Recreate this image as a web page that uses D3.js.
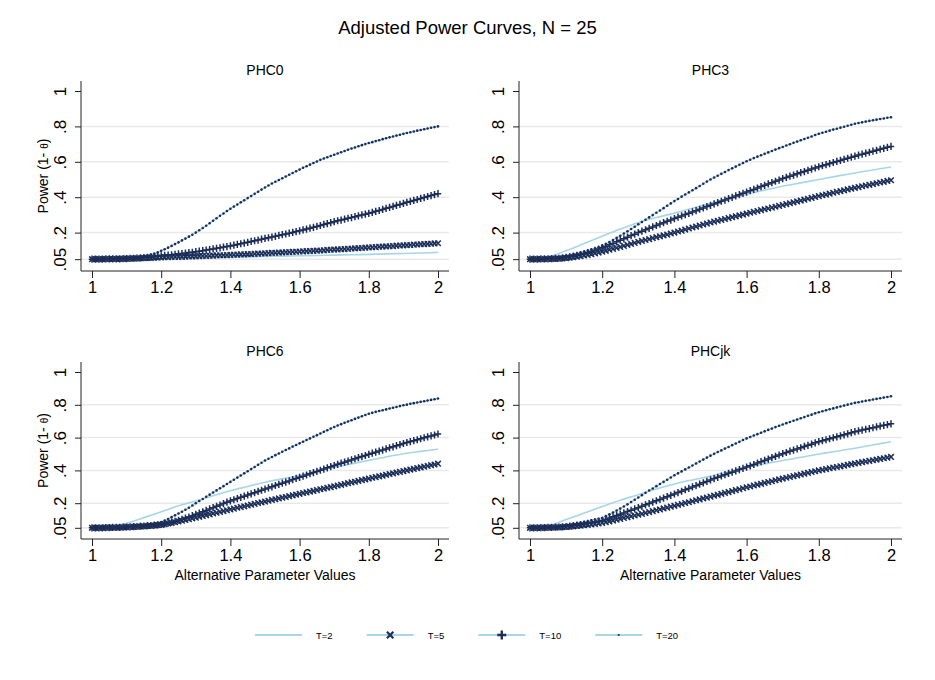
<!DOCTYPE html>
<html>
<head>
<meta charset="utf-8">
<script src="https://cdn.jsdelivr.net/npm/d3@7"></script>
<style>
  body { margin: 0; background: #fff; }
  svg { font-family: "Liberation Sans", Arial, Helvetica, sans-serif; }
</style>
</head>
<body>
<svg width="935" height="680"></svg>
<script>
// alternative parameter values (x) for the marker series
const altValues = [
  1.00, 1.01, 1.02, 1.03, 1.04, 1.05, 1.06, 1.07, 1.08, 1.09, 1.10,
  1.11, 1.12, 1.13, 1.14, 1.15, 1.16, 1.17, 1.18, 1.19, 1.20,
  1.21, 1.22, 1.23, 1.24, 1.25, 1.26, 1.27, 1.28, 1.29, 1.30,
  1.31, 1.32, 1.33, 1.34, 1.35, 1.36, 1.37, 1.38, 1.39, 1.40,
  1.41, 1.42, 1.43, 1.44, 1.45, 1.46, 1.47, 1.48, 1.49, 1.50,
  1.51, 1.52, 1.53, 1.54, 1.55, 1.56, 1.57, 1.58, 1.59, 1.60,
  1.61, 1.62, 1.63, 1.64, 1.65, 1.66, 1.67, 1.68, 1.69, 1.70,
  1.71, 1.72, 1.73, 1.74, 1.75, 1.76, 1.77, 1.78, 1.79, 1.80,
  1.81, 1.82, 1.83, 1.84, 1.85, 1.86, 1.87, 1.88, 1.89, 1.90,
  1.91, 1.92, 1.93, 1.94, 1.95, 1.96, 1.97, 1.98, 1.99, 2.00
];
// x values for the plain T=2 line
const altValuesT2 = [1.00, 1.05, 1.10, 1.15, 1.20, 1.25, 1.30, 1.35, 1.40, 1.45, 1.50,
  1.55, 1.60, 1.65, 1.70, 1.75, 1.80, 1.85, 1.90, 1.95, 2.00];

const panelNames = ["PHC0", "PHC3", "PHC6", "PHCjk"];
const seriesLabels = ["T=2", "T=5", "T=10", "T=20"];
const xTicks = [1, 1.2, 1.4, 1.6, 1.8, 2];
const xTickLabels = ["1", "1.2", "1.4", "1.6", "1.8", "2"];
const yTicks = [0.05, 0.2, 0.4, 0.6, 0.8, 1];
const yTickLabels = [".05", ".2", ".4", ".6", ".8", "1"];

// PHC0
const phc0T2 = [.050, .050, .051, .052, .053, .055, .057, .059, .061, .063, .065,
  .067, .069, .071, .073, .075, .077, .080, .082, .085, .088];
const phc0T5 = [
  .050, .050, .050, .050, .051, .051, .051, .052, .052, .052, .053,
  .053, .054, .054, .055, .056, .057, .057, .058, .059, .060,
  .061, .061, .062, .062, .063, .063, .064, .065, .065, .066,
  .067, .068, .068, .069, .070, .071, .072, .072, .073, .074,
  .075, .076, .077, .077, .078, .079, .080, .081, .082, .083,
  .084, .085, .086, .087, .088, .089, .090, .091, .092, .093,
  .094, .095, .096, .097, .098, .099, .100, .102, .103, .104,
  .105, .106, .107, .108, .110, .111, .112, .113, .115, .116,
  .117, .118, .120, .121, .122, .123, .124, .126, .127, .128,
  .129, .130, .132, .133, .134, .135, .136, .137, .139, .140
];
const phc0T10 = [
  .050, .050, .050, .050, .051, .051, .051, .052, .052, .053, .053,
  .054, .055, .056, .057, .059, .060, .062, .064, .066, .069,
  .071, .073, .075, .077, .080, .082, .084, .087, .089, .092,
  .095, .098, .101, .104, .108, .111, .114, .118, .121, .125,
  .129, .133, .137, .141, .145, .150, .154, .158, .163, .167,
  .171, .175, .179, .184, .188, .192, .197, .201, .206, .210,
  .215, .220, .225, .230, .235, .240, .246, .251, .256, .262,
  .267, .271, .276, .281, .285, .290, .295, .300, .304, .309,
  .314, .320, .325, .331, .337, .342, .348, .354, .359, .365,
  .371, .376, .382, .387, .393, .398, .404, .409, .415, .420
];
const phc0T20 = [
  .050, .050, .050, .051, .051, .051, .052, .052, .053, .054, .055,
  .057, .059, .061, .064, .067, .071, .076, .081, .088, .097,
  .106, .115, .125, .135, .145, .156, .166, .177, .188, .200,
  .213, .226, .239, .253, .267, .281, .295, .308, .322, .335,
  .347, .359, .371, .383, .395, .407, .419, .431, .443, .455,
  .466, .477, .487, .497, .507, .517, .527, .537, .547, .556,
  .566, .575, .584, .593, .602, .611, .619, .626, .633, .640,
  .647, .654, .661, .668, .675, .681, .688, .694, .700, .706,
  .711, .717, .722, .728, .733, .738, .743, .748, .753, .758,
  .763, .767, .771, .776, .780, .784, .788, .792, .796, .800
];

// PHC3
const phc3T2 = [.050, .062, .097, .138, .180, .220, .257, .285, .310, .338, .365,
  .391, .416, .440, .462, .481, .500, .519, .537, .554, .571];
const phc3T5 = [
  .050, .050, .050, .050, .051, .051, .052, .052, .053, .054, .056,
  .058, .061, .064, .067, .071, .074, .078, .083, .087, .092,
  .097, .103, .108, .114, .119, .125, .131, .136, .142, .148,
  .153, .158, .163, .169, .174, .179, .184, .189, .195, .200,
  .206, .211, .217, .223, .229, .234, .240, .246, .251, .257,
  .262, .267, .272, .277, .282, .287, .292, .297, .302, .307,
  .312, .317, .322, .327, .332, .336, .341, .346, .351, .356,
  .361, .366, .371, .376, .381, .386, .391, .396, .401, .406,
  .411, .415, .420, .425, .430, .434, .439, .444, .448, .453,
  .457, .462, .466, .470, .474, .479, .483, .487, .492, .496
];
const phc3T10 = [
  .050, .050, .050, .051, .051, .052, .053, .054, .055, .057, .060,
  .063, .067, .071, .076, .081, .087, .093, .100, .107, .115,
  .123, .131, .139, .148, .157, .165, .174, .183, .191, .200,
  .208, .216, .224, .232, .240, .248, .256, .264, .271, .279,
  .287, .294, .302, .309, .317, .324, .332, .339, .347, .354,
  .362, .369, .377, .384, .392, .399, .407, .414, .422, .429,
  .437, .444, .452, .460, .467, .475, .482, .490, .497, .505,
  .512, .519, .525, .532, .539, .545, .552, .559, .565, .572,
  .578, .584, .590, .596, .602, .608, .614, .620, .626, .632,
  .638, .643, .649, .654, .660, .665, .671, .676, .682, .687
];
const phc3T20 = [
  .050, .050, .051, .052, .053, .055, .057, .059, .062, .065, .069,
  .073, .077, .082, .087, .092, .098, .104, .110, .117, .125,
  .136, .147, .158, .170, .182, .195, .207, .220, .233, .247,
  .260, .273, .286, .299, .312, .325, .338, .352, .365, .378,
  .390, .403, .415, .427, .439, .451, .463, .476, .488, .500,
  .511, .521, .532, .542, .553, .563, .573, .583, .593, .603,
  .612, .621, .629, .637, .645, .653, .661, .669, .677, .684,
  .692, .699, .707, .714, .722, .729, .736, .743, .751, .758,
  .764, .770, .776, .782, .787, .793, .798, .804, .809, .815,
  .819, .823, .827, .831, .835, .838, .842, .845, .849, .852
];

// PHC6
const phc6T2 = [.050, .056, .078, .112, .148, .184, .214, .245, .276, .302, .328,
  .349, .369, .395, .420, .440, .461, .482, .502, .516, .529];
const phc6T5 = [
  .050, .050, .050, .050, .051, .051, .051, .052, .052, .053, .054,
  .055, .056, .057, .058, .059, .061, .062, .064, .066, .068,
  .072, .076, .080, .084, .089, .093, .098, .102, .107, .112,
  .117, .122, .127, .132, .137, .142, .147, .152, .157, .162,
  .167, .172, .177, .181, .186, .191, .196, .201, .205, .210,
  .215, .220, .224, .229, .234, .238, .243, .248, .252, .257,
  .262, .266, .271, .275, .280, .285, .289, .294, .298, .303,
  .308, .312, .317, .322, .327, .331, .336, .341, .345, .350,
  .355, .359, .364, .368, .373, .378, .382, .387, .391, .396,
  .400, .405, .409, .414, .418, .423, .427, .432, .436, .441
];
const phc6T10 = [
  .050, .050, .050, .050, .051, .051, .052, .052, .053, .054, .055,
  .056, .057, .058, .060, .061, .063, .064, .066, .068, .070,
  .074, .079, .084, .090, .096, .102, .109, .116, .124, .132,
  .140, .148, .156, .165, .173, .181, .189, .198, .206, .214,
  .221, .228, .236, .243, .250, .257, .264, .272, .279, .286,
  .293, .300, .308, .315, .322, .329, .336, .344, .351, .358,
  .365, .372, .380, .387, .394, .401, .408, .416, .423, .430,
  .437, .444, .450, .457, .464, .471, .478, .484, .491, .498,
  .505, .511, .518, .524, .531, .538, .544, .551, .557, .564,
  .570, .576, .581, .587, .593, .599, .605, .610, .616, .622
];
const phc6T20 = [
  .050, .050, .050, .051, .051, .051, .052, .052, .053, .054, .055,
  .056, .058, .060, .062, .065, .068, .072, .076, .080, .085,
  .094, .104, .115, .126, .137, .148, .160, .172, .186, .200,
  .213, .226, .239, .252, .265, .278, .291, .304, .317, .330,
  .343, .356, .369, .382, .395, .408, .421, .434, .447, .460,
  .471, .482, .493, .503, .514, .524, .534, .545, .555, .565,
  .575, .585, .595, .605, .615, .625, .635, .645, .655, .665,
  .674, .682, .690, .698, .706, .714, .722, .730, .738, .745,
  .751, .757, .762, .767, .772, .777, .782, .787, .792, .797,
  .801, .806, .810, .814, .818, .822, .826, .830, .834, .838
];

// PHCjk
const phcjkT2 = [.050, .062, .100, .140, .180, .218, .252, .287, .317, .342, .365,
  .392, .420, .440, .460, .480, .500, .517, .535, .555, .575];
const phcjkT5 = [
  .050, .050, .050, .050, .051, .051, .052, .052, .053, .054, .055,
  .057, .059, .061, .063, .066, .068, .071, .074, .077, .080,
  .084, .089, .094, .099, .104, .110, .115, .120, .125, .130,
  .135, .141, .146, .152, .157, .162, .168, .173, .179, .184,
  .190, .195, .201, .206, .212, .218, .223, .229, .234, .240,
  .246, .251, .257, .263, .268, .274, .280, .285, .291, .297,
  .302, .308, .313, .318, .324, .329, .334, .340, .345, .350,
  .355, .360, .365, .370, .375, .380, .385, .390, .395, .400,
  .404, .408, .413, .417, .421, .425, .429, .434, .438, .442,
  .446, .450, .454, .458, .462, .466, .470, .474, .478, .482
];
const phcjkT10 = [
  .050, .050, .050, .051, .051, .052, .053, .054, .055, .056, .058,
  .060, .063, .066, .069, .073, .077, .081, .085, .090, .095,
  .102, .110, .117, .125, .133, .141, .149, .157, .165, .173,
  .181, .190, .198, .207, .215, .223, .231, .240, .248, .256,
  .265, .273, .282, .290, .299, .307, .316, .324, .333, .342,
  .350, .358, .366, .374, .382, .389, .397, .405, .412, .420,
  .428, .436, .445, .453, .461, .469, .478, .486, .494, .502,
  .509, .517, .524, .531, .538, .546, .553, .560, .568, .575,
  .581, .587, .593, .599, .605, .611, .617, .623, .630, .636,
  .641, .646, .651, .655, .660, .665, .670, .675, .679, .684
];
const phcjkT20 = [
  .050, .050, .051, .051, .052, .053, .055, .057, .059, .062, .066,
  .069, .073, .077, .081, .085, .090, .095, .100, .105, .110,
  .121, .132, .143, .155, .167, .180, .193, .207, .221, .235,
  .249, .263, .277, .290, .304, .317, .330, .343, .357, .370,
  .382, .394, .406, .418, .430, .442, .454, .466, .478, .490,
  .501, .512, .522, .533, .543, .554, .564, .574, .585, .595,
  .604, .613, .621, .630, .638, .647, .655, .664, .672, .680,
  .688, .695, .703, .710, .718, .725, .733, .740, .748, .755,
  .761, .767, .773, .778, .784, .790, .795, .801, .806, .812,
  .816, .820, .824, .828, .832, .836, .840, .844, .848, .852
];

const navy = "#1c2d58";
const ltblue = "#a7d6e7";
const svg = d3.select("svg");

// panel table built from the arrays
const panels = [
  { name: panelNames[0], t2: phc0T2, t5: phc0T5, t10: phc0T10, t20: phc0T20 },
  { name: panelNames[1], t2: phc3T2, t5: phc3T5, t10: phc3T10, t20: phc3T20 },
  { name: panelNames[2], t2: phc6T2, t5: phc6T5, t10: phc6T10, t20: phc6T20 },
  { name: panelNames[3], t2: phcjkT2, t5: phcjkT5, t10: phcjkT10, t20: phcjkT20 }
];

// plot region of each panel (left, right, top, bottom)
const boxes = [
  { l: 81, r: 449, t: 81, b: 271, yTitle: true, xTitle: false },
  { l: 519, r: 902, t: 81, b: 271, yTitle: false, xTitle: false },
  { l: 81, r: 449, t: 362, b: 539, yTitle: true, xTitle: true },
  { l: 519, r: 902, t: 362, b: 539, yTitle: false, xTitle: true }
];

// marker shapes
const crossPath = "M-2.8,-2.8L2.8,2.8M-2.8,2.8L2.8,-2.8";
const plusPath = "M0,-3.6L0,3.6M-3.2,0L3.2,0";

// main title
svg.append("text")
  .attr("x", 467.5)
  .attr("y", 34)
  .attr("text-anchor", "middle")
  .style("font-size", "18.5px")
  .text("Adjusted Power Curves, N = 25");

panels.forEach((p, k) => {
  const box = boxes[k];
  const g = svg.append("g");

  const x = d3.scaleLinear().domain([1, 2]).range([box.l + 11, box.r - 11]);
  const y = d3.scaleLinear().domain([0, 1]).range([box.b - 3, box.t + 10]);

  // gridlines (none on the top tick)
  g.selectAll("line.grid")
    .data(yTicks.filter(d => d < 1))
    .enter()
    .append("line")
    .attr("class", "grid")
    .attr("x1", box.l)
    .attr("x2", box.r)
    .attr("y1", d => y(d))
    .attr("y2", d => y(d))
    .attr("stroke", "#e9e9e9")
    .attr("stroke-width", 1.5);

  // y axis
  const yAxis = g.append("g")
    .attr("transform", `translate(${box.l},0)`)
    .call(d3.axisLeft(y).tickValues(yTicks).tickFormat((d, i) => yTickLabels[i]).tickSize(6));
  yAxis.select(".domain").remove();
  yAxis.selectAll("text")
    .attr("x", null)
    .attr("dy", null)
    .attr("text-anchor", "middle")
    .attr("transform", "translate(-15,0) rotate(-90)")
    .style("font-size", "17px")
    .style("font-family", "Liberation Sans, Arial, sans-serif")
    .attr("fill", "#000");
  yAxis.selectAll("line").attr("stroke", "#222");

  // x axis
  const xAxis = g.append("g")
    .attr("transform", `translate(0,${box.b})`)
    .call(d3.axisBottom(x).tickValues(xTicks).tickFormat((d, i) => xTickLabels[i]).tickSize(7));
  xAxis.select(".domain").remove();
  xAxis.selectAll("text")
    .attr("y", 10)
    .style("font-size", "16.5px")
    .style("font-family", "Liberation Sans, Arial, sans-serif")
    .attr("fill", "#000");
  xAxis.selectAll("line").attr("stroke", "#222");

  // axis lines span the whole plot region
  g.append("line")
    .attr("x1", box.l).attr("x2", box.l)
    .attr("y1", box.t).attr("y2", box.b)
    .attr("stroke", "#222");
  g.append("line")
    .attr("x1", box.l).attr("x2", box.r)
    .attr("y1", box.b).attr("y2", box.b)
    .attr("stroke", "#222");

  // panel title
  g.append("text")
    .attr("x", (box.l + box.r) / 2)
    .attr("y", box.t - 6)
    .attr("text-anchor", "middle")
    .style("font-size", "14px")
    .text(p.name);

  if (box.yTitle) {
    const yt = g.append("text")
      .attr("transform", `translate(${box.l - 33},${(box.t + box.b) / 2}) rotate(-90)`)
      .attr("text-anchor", "middle")
      .style("font-size", "14px");
    yt.append("tspan").text("Power (1- ");
    yt.append("tspan").style("font-size", "10px").text("θ");
    yt.append("tspan").text(")");
  }
  if (box.xTitle) {
    g.append("text")
      .attr("x", (box.l + box.r) / 2)
      .attr("y", box.b + 41)
      .attr("text-anchor", "middle")
      .style("font-size", "14px")
      .text("Alternative Parameter Values");
  }

  const line = d3.line()
    .x(d => x(d[0]))
    .y(d => y(d[1]))
    .curve(d3.curveMonotoneX);

  const pts2 = altValuesT2.map((v, i) => [v, p.t2[i]]);
  const pts5 = altValues.map((v, i) => [v, p.t5[i]]);
  const pts10 = altValues.map((v, i) => [v, p.t10[i]]);
  const pts20 = altValues.map((v, i) => [v, p.t20[i]]);

  // T=2 plain line
  g.append("path").datum(pts2)
    .attr("d", line).attr("fill", "none")
    .attr("stroke", ltblue).attr("stroke-width", 1.6);

  // lines under the markers
  [pts5, pts10, pts20].forEach(pts => {
    g.append("path").datum(pts)
      .attr("d", line).attr("fill", "none")
      .attr("stroke", ltblue).attr("stroke-width", 1.6);
  });

  // T=5 markers (x)
  g.selectAll("path.m5")
    .data(pts5)
    .enter()
    .append("path")
    .attr("class", "m5")
    .attr("d", crossPath)
    .attr("transform", d => `translate(${x(d[0])},${y(d[1])})`)
    .attr("stroke", navy)
    .attr("stroke-width", 1.5)
    .attr("fill", "none");

  // T=10 markers (+)
  g.selectAll("path.m10")
    .data(pts10)
    .enter()
    .append("path")
    .attr("class", "m10")
    .attr("d", plusPath)
    .attr("transform", d => `translate(${x(d[0])},${y(d[1])})`)
    .attr("stroke", navy)
    .attr("stroke-width", 1.5)
    .attr("fill", "none");

  // T=20 markers (dot)
  g.selectAll("circle.m20")
    .data(pts20)
    .enter()
    .append("circle")
    .attr("class", "m20")
    .attr("cx", d => x(d[0]))
    .attr("cy", d => y(d[1]))
    .attr("r", 1.3)
    .attr("fill", navy);
});

// legend
const legend = svg.append("g").attr("transform", "translate(0,635)");
let lx = 255;
seriesLabels.forEach((label, i) => {
  const item = legend.append("g").attr("transform", `translate(${lx},0)`);
  item.append("line")
    .attr("x1", 0).attr("x2", 47)
    .attr("stroke", ltblue).attr("stroke-width", 2);
  if (i === 1) {
    item.append("path").attr("d", "M-3.2,-3.2L3.2,3.2M-3.2,3.2L3.2,-3.2")
      .attr("transform", "translate(23.5,0)")
      .attr("stroke", navy).attr("stroke-width", 2.2).attr("fill", "none");
  } else if (i === 2) {
    item.append("path").attr("d", "M0,-4.5L0,4.5M-4.5,0L4.5,0")
      .attr("transform", "translate(23.5,0)")
      .attr("stroke", navy).attr("stroke-width", 2.4).attr("fill", "none");
  } else if (i === 3) {
    item.append("circle").attr("cx", 23.5).attr("cy", 0).attr("r", 1.1).attr("fill", navy);
  }
  const t = item.append("text")
    .attr("x", 61)
    .attr("y", 3.5)
    .style("font-size", "9.5px")
    .text(label);
  lx += 61 + t.node().getComputedTextLength() + 34;
});
</script>
</body>
</html>
